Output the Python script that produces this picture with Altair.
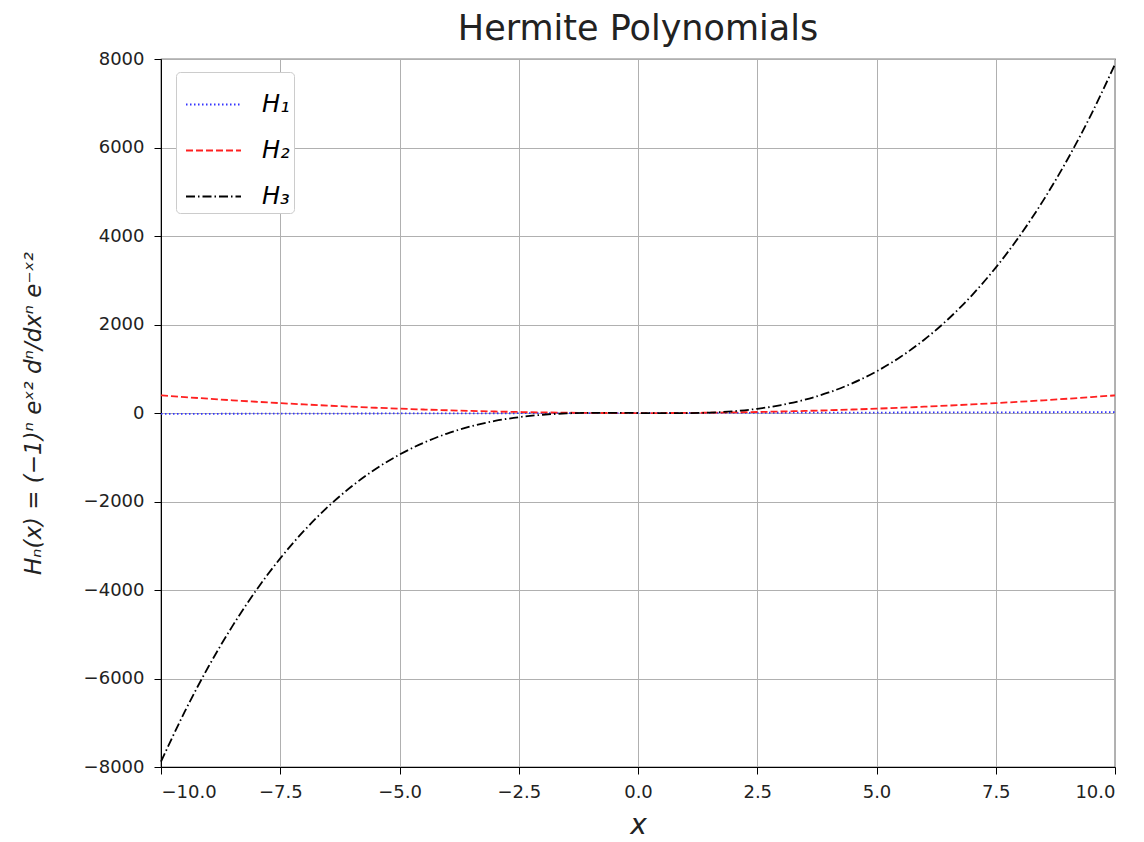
import altair as alt
import pandas as pd

x_vals = [-10, -9.5, -9, -8.5, -8, -7.5, -7, -6.5, -6, -5.5, -5, -4.5, -4, -3.5, -3, -2.5, -2, -1.5, -1, -0.5,
          0, 0.5, 1, 1.5, 2, 2.5, 3, 3.5, 4, 4.5, 5, 5.5, 6, 6.5, 7, 7.5, 8, 8.5, 9, 9.5, 10]
h1_vals = [-20, -19, -18, -17, -16, -15, -14, -13, -12, -11, -10, -9, -8, -7, -6, -5, -4, -3, -2, -1,
           0, 1, 2, 3, 4, 5, 6, 7, 8, 9, 10, 11, 12, 13, 14, 15, 16, 17, 18, 19, 20]
h2_vals = [398, 359, 322, 287, 254, 223, 194, 167, 142, 119, 98, 79, 62, 47, 34, 23, 14, 7, 2, -1,
           -2, -1, 2, 7, 14, 23, 34, 47, 62, 79, 98, 119, 142, 167, 194, 223, 254, 287, 322, 359, 398]
h3_vals = [-7880, -6745, -5724, -4811, -4000, -3285, -2660, -2119, -1656, -1265, -940, -675, -464, -301, -180, -95, -40, -9, 4, 5,
           0, -5, -4, 9, 40, 95, 180, 301, 464, 675, 940, 1265, 1656, 2119, 2660, 3285, 4000, 4811, 5724, 6745, 7880]
series_names = ["H₁", "H₂", "H₃"]
series_colors = ["#3333ff", "#ff2020", "#000000"]
series_dashes = [[1.5, 2.5], [7, 3], [9, 3, 1.5, 3]]

rows = []
for name, vals in zip(series_names, [h1_vals, h2_vals, h3_vals]):
    for xv, yv in zip(x_vals, vals):
        rows.append({"x": xv, "y": yv, "series": name})
df = pd.DataFrame(rows)

chart = alt.Chart(df).mark_line(strokeWidth=1.8, interpolate="monotone").encode(
    x=alt.X("x:Q", title="x",
            scale=alt.Scale(domain=[-10, 10], nice=False, zero=False),
            axis=alt.Axis(values=[-10, -7.5, -5, -2.5, 0, 2.5, 5, 7.5, 10], format=".1f",
                          titleFontStyle="italic", titleFontSize=28, titleFontWeight="normal",
                          titlePadding=10, labelPadding=9)),
    y=alt.Y("y:Q", title="Hₙ(x) = (−1)ⁿ eˣ² dⁿ/dxⁿ e⁻ˣ²",
            scale=alt.Scale(domain=[-8000, 8000], nice=False),
            axis=alt.Axis(values=list(range(-8000, 8001, 2000)), format="d",
                          titleFontSize=23, titleFontWeight="normal", titleFontStyle="italic",
                          titlePadding=38, labelPadding=10)),
    color=alt.Color("series:N", title=None,
                    scale=alt.Scale(domain=series_names, range=series_colors),
                    legend=alt.Legend(orient="none", legendX=15, legendY=13,
                                      symbolType="stroke", symbolSize=3025, symbolStrokeWidth=1.8,
                                      symbolOffset=5,
                                      labelFontSize=24, labelFontStyle="italic", labelFont="DejaVu Sans",
                                      rowPadding=5, padding=4, labelOffset=20,
                                      strokeColor="#cccccc", fillColor="white", cornerRadius=4)),
    strokeDash=alt.StrokeDash("series:N", title=None,
                              scale=alt.Scale(domain=series_names, range=series_dashes),
                              legend=alt.Legend(orient="none", legendX=15, legendY=13)),
).properties(
    width=954, height=708,
    title=alt.TitleParams("Hermite Polynomials", fontSize=35, fontWeight="normal",
                          font="DejaVu Sans", offset=12, dy=9, color="#222222"),
    autosize=alt.AutoSizeParams(type="none"),
    padding={"left": 153, "top": 51, "right": 20, "bottom": 74},
).configure_view(
    stroke="black", strokeWidth=1.2
).configure_axis(
    labelFont="DejaVu Sans", titleFont="DejaVu Sans", labelFontSize=18, labelColor="#222222",
    titleColor="#222222", domainColor="black", tickColor="black", tickSize=7,
    gridColor="#b0b0b0", gridWidth=1
)

chart.save("out.html", embed_options={"renderer": "svg", "actions": False})
